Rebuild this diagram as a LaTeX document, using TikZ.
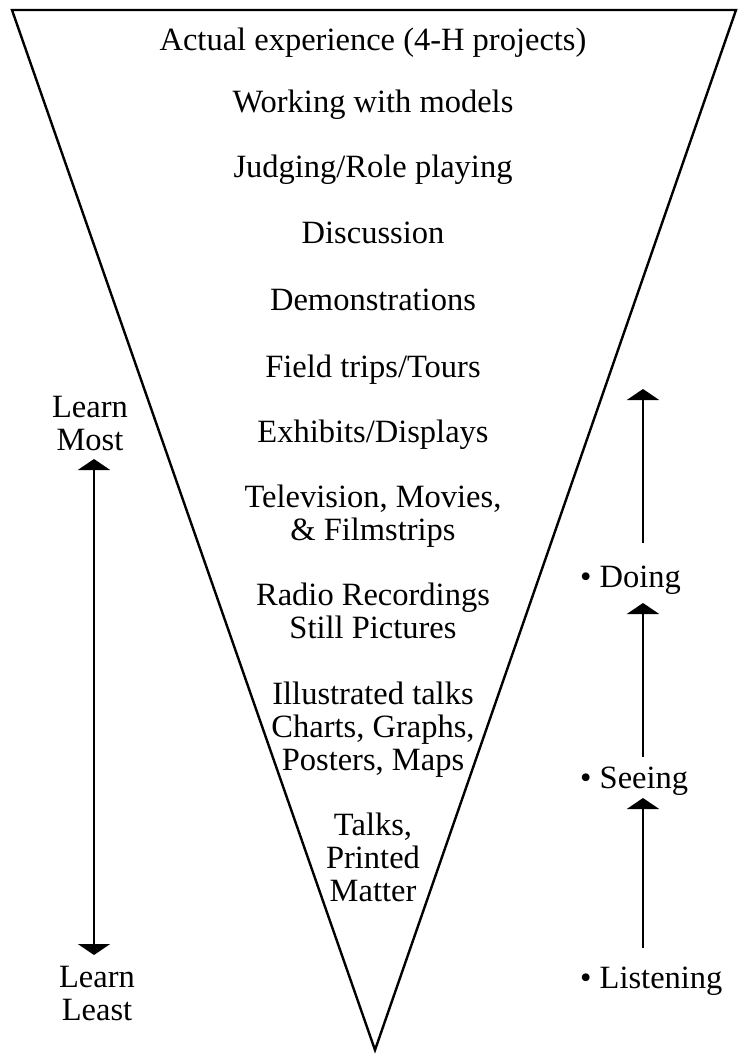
\documentclass[tikz,border=0pt]{standalone}
\usepackage{fontspec}
\setmainfont{Liberation Serif}
\usetikzlibrary{arrows.meta}
\tikzset{
  lbl/.style={font=\fontsize{32.5}{33}\selectfont, inner sep=0pt, align=center, anchor=base},
  side/.style={font=\fontsize{32.5}{33}\selectfont, inner sep=0pt, anchor=base west},
  funnel/.style={draw=black, line width=2.4pt, line join=miter},
  arr/.style={draw=black, line width=2.2pt, -{Triangle[width=32pt,length=11pt]}},
  darr/.style={draw=black, line width=2.2pt, {Triangle[width=32pt,length=11pt]}-{Triangle[width=32pt,length=11pt]}}
}
\begin{document}
\begin{tikzpicture}[x=1pt,y=-1pt]
\useasboundingbox (0,0) rectangle (743,1055);
% funnel
\coordinate (tl) at (12,10);
\coordinate (tr) at (736,10);
\coordinate (ap) at (375,1050);
\draw[funnel] (tl) -- (tr) -- (ap) -- cycle;
% centre labels (multi-line nodes: base = last line)
\node[lbl] (t1) at (373,50) {Actual experience (4-H projects)};
\node[lbl] (t2) at (373,112) {Working with models};
\node[lbl] (t3) at (373,177) {Judging/Role playing};
\node[lbl] (t4) at (373,243) {Discussion};
\node[lbl] (t5) at (373,310) {Demonstrations};
\node[lbl] (t6) at (373,377) {Field trips/Tours};
\node[lbl] (t7) at (373,442) {Exhibits/Displays};
\node[lbl] (t8) at (373,540) {Television, Movies,\\ \& Filmstrips};
\node[lbl] (t9) at (373,638) {Radio Recordings\\ Still Pictures};
\node[lbl] (t10) at (373,770) {Illustrated talks\\ Charts, Graphs,\\ Posters, Maps};
\node[lbl] (t11) at (373,901) {Talks,\\ Printed\\ Matter};
% left scale
\node[lbl] (most) at (90,450) {Learn\\ Most};
\node[lbl] (least) at (97,1020) {Learn\\ Least};
\coordinate (la) at (94,459);
\coordinate (lb) at (94,955);
\draw[darr] (lb) -- (la);
% right scale
\node[side] (listen) at (580,988) {\textbullet\ Listening};
\node[side] (see) at (580,788) {\textbullet\ Seeing};
\node[side] (do) at (580,587) {\textbullet\ Doing};
\coordinate (r1) at (643,948);
\coordinate (r2) at (643,798);
\coordinate (r3) at (643,757);
\coordinate (r4) at (643,603);
\coordinate (r5) at (643,543);
\coordinate (r6) at (643,389);
\draw[arr] (r1) -- (r2);
\draw[arr] (r3) -- (r4);
\draw[arr] (r5) -- (r6);
\end{tikzpicture}
\end{document}
